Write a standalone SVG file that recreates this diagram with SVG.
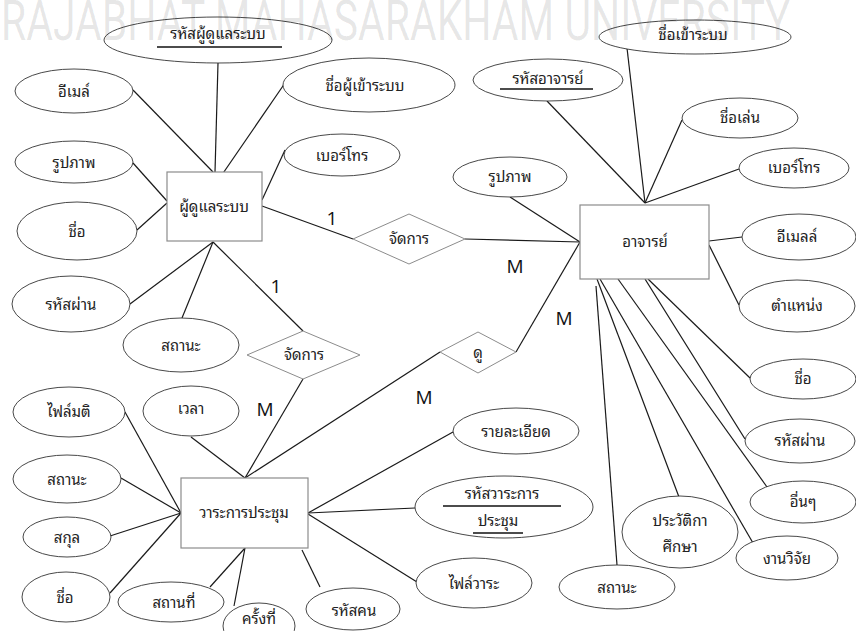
<svg xmlns="http://www.w3.org/2000/svg" width="856" height="631" viewBox="0 0 856 631">
<style>
  .bg { fill: #ffffff; }
  .ent { fill: #ffffff; stroke: #8c8c8c; stroke-width: 1.2; }
  .rel { fill: #ffffff; stroke: #8c8c8c; stroke-width: 1; }
  .att { fill: #ffffff; stroke: #333333; stroke-width: 0.9; }
  .ln { stroke: #1a1a1a; stroke-width: 1.2; fill: none; }
  .ul { stroke: #111111; stroke-width: 1.4; }
  .th { font-family: "Noto Sans Thai Looped", "Noto Serif Thai", "Noto Sans Thai", "Liberation Serif", serif; font-size: 15px; fill: #222222; text-anchor: middle; }
  .card { font-family: "Open Sans", "Liberation Sans", sans-serif; font-size: 19px; fill: #111111; text-anchor: middle; }
  .wm { font-family: Roboto, "Liberation Sans", sans-serif; font-size: 56px; fill: #000000; fill-opacity: 0.1; }
</style>
<rect class="bg" x="0" y="0" width="856" height="631"/>

<g id="connectors">
  <!-- admin attributes -->
  <line class="ln" x1="218" y1="63" x2="215" y2="172"/>
  <line class="ln" x1="133" y1="90" x2="213" y2="172"/>
  <line class="ln" x1="285" y1="83" x2="217" y2="182"/>
  <line class="ln" x1="285" y1="150" x2="262" y2="200"/>
  <line class="ln" x1="133" y1="163" x2="167" y2="201"/>
  <line class="ln" x1="137" y1="230" x2="167" y2="203"/>
  <line class="ln" x1="130" y1="304" x2="213" y2="242"/>
  <line class="ln" x1="182" y1="318" x2="213" y2="242"/>
  <!-- relationships -->
  <line class="ln" x1="262" y1="206" x2="353" y2="239"/>
  <line class="ln" x1="465" y1="239" x2="580" y2="242"/>
  <line class="ln" x1="213" y1="242" x2="303" y2="331"/>
  <line class="ln" x1="303" y1="379" x2="245" y2="478"/>
  <line class="ln" x1="440" y1="352" x2="245" y2="478"/>
  <line class="ln" x1="516" y1="352" x2="580" y2="242"/>
  <!-- teacher attributes -->
  <line class="ln" x1="510" y1="197" x2="580" y2="242"/>
  <line class="ln" x1="627" y1="48" x2="645" y2="203"/>
  <line class="ln" x1="547" y1="101" x2="645" y2="203"/>
  <line class="ln" x1="682" y1="120" x2="645" y2="203"/>
  <line class="ln" x1="739" y1="169" x2="645" y2="203"/>
  <line class="ln" x1="709" y1="241" x2="742" y2="237"/>
  <line class="ln" x1="709" y1="245" x2="739" y2="305"/>
  <line class="ln" x1="648" y1="279" x2="750" y2="378"/>
  <line class="ln" x1="645" y1="279" x2="745" y2="439"/>
  <line class="ln" x1="618" y1="279" x2="767" y2="487"/>
  <line class="ln" x1="600" y1="279" x2="753" y2="543"/>
  <line class="ln" x1="597" y1="279" x2="679" y2="497"/>
  <line class="ln" x1="596" y1="286" x2="617" y2="565"/>
  <!-- meeting attributes -->
  <line class="ln" x1="191" y1="437" x2="245" y2="478"/>
  <line class="ln" x1="125" y1="412" x2="181" y2="513"/>
  <line class="ln" x1="121" y1="478" x2="181" y2="513"/>
  <line class="ln" x1="110" y1="536" x2="181" y2="513"/>
  <line class="ln" x1="110" y1="593" x2="181" y2="513"/>
  <line class="ln" x1="210" y1="587" x2="245" y2="548"/>
  <line class="ln" x1="234" y1="606" x2="245" y2="548"/>
  <line class="ln" x1="320" y1="587" x2="302" y2="550"/>
  <line class="ln" x1="308" y1="513" x2="453" y2="432"/>
  <line class="ln" x1="308" y1="513" x2="415" y2="508"/>
  <line class="ln" x1="308" y1="514" x2="417" y2="582"/>
</g>

<!-- entities -->
<g id="admin">
  <rect class="ent" x="167" y="172" width="95" height="69"/>
  <text class="th" x="214" y="212">ผู้ดูแลระบบ</text>
</g>
<g id="teacher">
  <rect class="ent" x="580" y="205" width="129" height="74"/>
  <text class="th" x="645" y="247">อาจารย์</text>
</g>
<g id="meeting">
  <rect class="ent" x="181" y="478" width="127" height="70"/>
  <text class="th" x="244" y="518">วาระการประชุม</text>
</g>

<!-- relationships -->
<g id="rel-manage-teacher">
  <polygon class="rel" points="353,239 409,214 465,239 409,264"/>
  <text class="th" x="409" y="244">จัดการ</text>
</g>
<g id="rel-manage-meeting">
  <polygon class="rel" points="247,355 303,331 360,355 303,379"/>
  <text class="th" x="304" y="360">จัดการ</text>
</g>
<g id="rel-view">
  <polygon class="rel" points="440,352 478,332 516,352 478,373"/>
  <text class="th" x="478" y="358">ดู</text>
</g>

<!-- admin attributes -->
<g id="admin-id">
  <ellipse class="att" cx="218" cy="40" rx="114" ry="23"/>
  <text class="th" x="218" y="39">รหัสผู้ดูแลระบบ</text>
  <line class="ul" x1="157" y1="47" x2="282" y2="47"/>
</g>
<g id="admin-email">
  <ellipse class="att" cx="74" cy="91" rx="59" ry="22"/>
  <text class="th" x="74" y="97">อีเมล์</text>
</g>
<g id="admin-login">
  <ellipse class="att" cx="369" cy="85" rx="86" ry="27"/>
  <text class="th" x="365" y="91">ชื่อผู้เข้าระบบ</text>
</g>
<g id="admin-phone">
  <ellipse class="att" cx="342" cy="155" rx="58" ry="21"/>
  <text class="th" x="342" y="161">เบอร์โทร</text>
</g>
<g id="admin-photo">
  <ellipse class="att" cx="74" cy="162" rx="59" ry="21"/>
  <text class="th" x="74" y="168">รูปภาพ</text>
</g>
<g id="admin-name">
  <ellipse class="att" cx="77" cy="231" rx="60" ry="29"/>
  <text class="th" x="77" y="237">ชื่อ</text>
</g>
<g id="admin-password">
  <ellipse class="att" cx="71" cy="304" rx="59" ry="28"/>
  <text class="th" x="71" y="310">รหัสผ่าน</text>
</g>
<g id="admin-status">
  <ellipse class="att" cx="181" cy="345" rx="58" ry="27"/>
  <text class="th" x="181" y="351">สถานะ</text>
</g>

<!-- teacher attributes -->
<g id="teacher-login">
  <ellipse class="att" cx="695" cy="37" rx="96" ry="17"/>
  <text class="th" x="693" y="40">ชื่อเข้าระบบ</text>
</g>
<g id="teacher-id">
  <ellipse class="att" cx="548" cy="80" rx="75" ry="21"/>
  <text class="th" x="548" y="84">รหัสอาจารย์</text>
  <line class="ul" x1="500" y1="89" x2="593" y2="89"/>
</g>
<g id="teacher-nick">
  <ellipse class="att" cx="740" cy="118" rx="58" ry="20"/>
  <text class="th" x="740" y="123">ชื่อเล่น</text>
</g>
<g id="teacher-phone">
  <ellipse class="att" cx="794" cy="168" rx="55" ry="20"/>
  <text class="th" x="794" y="173">เบอร์โทร</text>
</g>
<g id="teacher-photo">
  <ellipse class="att" cx="510" cy="177" rx="57" ry="20"/>
  <text class="th" x="510" y="182">รูปภาพ</text>
</g>
<g id="teacher-email">
  <ellipse class="att" cx="799" cy="237" rx="57" ry="23"/>
  <text class="th" x="797" y="242">อีเมลล์</text>
</g>
<g id="teacher-position">
  <ellipse class="att" cx="797" cy="306" rx="58" ry="26"/>
  <text class="th" x="797" y="311">ตำแหน่ง</text>
</g>
<g id="teacher-name">
  <ellipse class="att" cx="803" cy="379" rx="53" ry="20"/>
  <text class="th" x="803" y="384">ชื่อ</text>
</g>
<g id="teacher-password">
  <ellipse class="att" cx="800" cy="441" rx="55" ry="22"/>
  <text class="th" x="800" y="446">รหัสผ่าน</text>
</g>
<g id="teacher-other">
  <ellipse class="att" cx="803" cy="502" rx="53" ry="21"/>
  <text class="th" x="803" y="507">อื่นๆ</text>
</g>
<g id="teacher-education">
  <ellipse class="att" cx="680" cy="532" rx="58" ry="36"/>
  <text class="th" x="680" y="526">ประวัติกา</text>
  <text class="th" x="680" y="552">ศึกษา</text>
</g>
<g id="teacher-research">
  <ellipse class="att" cx="787" cy="558" rx="51" ry="22"/>
  <text class="th" x="787" y="564">งานวิจัย</text>
</g>
<g id="teacher-status">
  <ellipse class="att" cx="617" cy="587" rx="58" ry="22"/>
  <text class="th" x="617" y="593">สถานะ</text>
</g>

<!-- meeting attributes -->
<g id="meeting-minutes">
  <ellipse class="att" cx="69" cy="412" rx="56" ry="25"/>
  <text class="th" x="69" y="417">ไฟล์มติ</text>
</g>
<g id="meeting-time">
  <ellipse class="att" cx="191" cy="411" rx="48" ry="25"/>
  <text class="th" x="191" y="414">เวลา</text>
</g>
<g id="meeting-status">
  <ellipse class="att" cx="67" cy="479" rx="54" ry="24"/>
  <text class="th" x="67" y="485">สถานะ</text>
</g>
<g id="meeting-surname">
  <ellipse class="att" cx="67" cy="537" rx="44" ry="20"/>
  <text class="th" x="67" y="543">สกุล</text>
</g>
<g id="meeting-name">
  <ellipse class="att" cx="66" cy="597" rx="44" ry="25"/>
  <text class="th" x="65" y="603">ชื่อ</text>
</g>
<g id="meeting-place">
  <ellipse class="att" cx="171" cy="602" rx="53" ry="20"/>
  <text class="th" x="174" y="608">สถานที่</text>
</g>
<g id="meeting-round">
  <ellipse class="att" cx="259" cy="626" rx="36" ry="23"/>
  <text class="th" x="259" y="624">ครั้งที่</text>
</g>
<g id="meeting-person">
  <ellipse class="att" cx="353" cy="609" rx="47" ry="21"/>
  <text class="th" x="354" y="616">รหัสคน</text>
</g>
<g id="meeting-detail">
  <ellipse class="att" cx="516" cy="431" rx="63" ry="23"/>
  <text class="th" x="516" y="437">รายละเอียด</text>
</g>
<g id="meeting-id">
  <ellipse class="att" cx="504" cy="507" rx="89" ry="31"/>
  <text class="th" x="502" y="499">รหัสวาระการ</text>
  <line class="ul" x1="443" y1="506" x2="561" y2="506"/>
  <text class="th" x="498" y="526">ประชุม</text>
  <line class="ul" x1="473" y1="533" x2="523" y2="533"/>
</g>
<g id="meeting-file">
  <ellipse class="att" cx="474" cy="583" rx="58" ry="25"/>
  <text class="th" x="474" y="589">ไฟล์วาระ</text>
</g>

<!-- cardinality labels -->
<g id="cardinality">
  <text class="card" x="332" y="225">1</text>
  <text class="card" x="276" y="293">1</text>
  <text class="card" x="515" y="273">M</text>
  <text class="card" x="564" y="325">M</text>
  <text class="card" x="265" y="416">M</text>
  <text class="card" x="424" y="404">M</text>
</g>

<!-- banner lettering along the top edge -->
<text class="wm" x="1" y="40" textLength="789" lengthAdjust="spacingAndGlyphs">RAJABHAT MAHASARAKHAM UNIVERSITY</text>
</svg>
